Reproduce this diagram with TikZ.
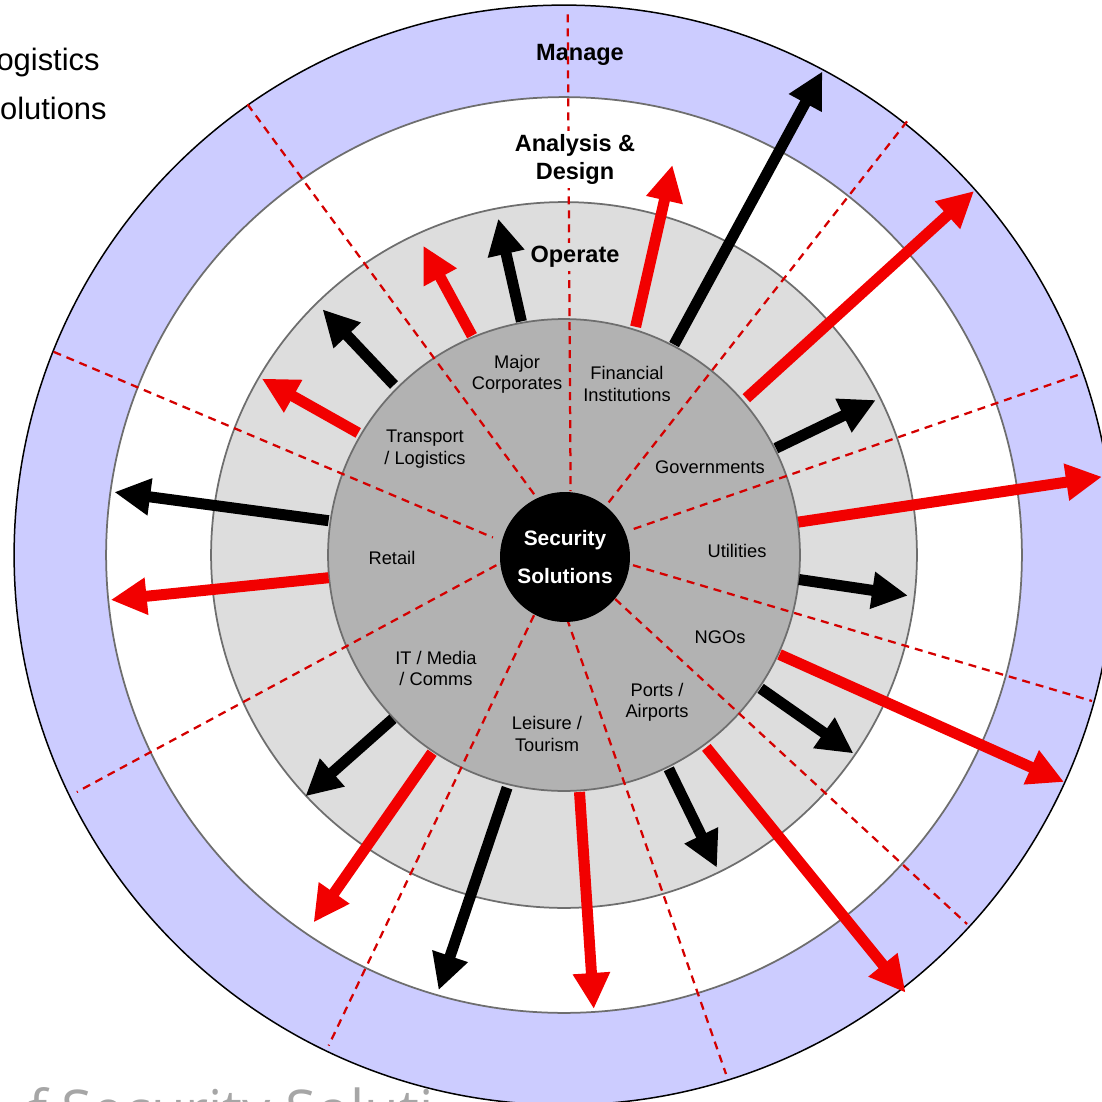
\documentclass[tikz,border=0pt]{standalone}
\usepackage{fontspec}
\setmainfont{Liberation Sans}
\newfontfamily\captionfont{Open Sans}
\usetikzlibrary{arrows.meta}
\definecolor{lav}{HTML}{CCCCFF}
\definecolor{lgray}{HTML}{DDDDDD}
\definecolor{mgray}{HTML}{B2B2B2}
\definecolor{ringline}{HTML}{6E6E6E}
\definecolor{arrred}{HTML}{F20000}
\definecolor{dashred}{HTML}{D40000}
\definecolor{captiongray}{HTML}{A6A6A6}
\begin{document}
\begin{tikzpicture}[x=0.02cm,y=-0.02cm,
  ring/.style={draw=ringline, line width=0.035cm},
  sector/.style={dashred, line width=0.045cm, dash pattern=on 0.16cm off 0.12cm},
  blackarrow/.style={black, line width=0.22cm, -{Triangle[length=0.72cm,width=0.70cm]}},
  redarrow/.style={arrred, line width=0.22cm, -{Triangle[length=0.72cm,width=0.70cm]}},
  seg/.style={align=center, font=\fontsize{10.4}{12.2}\selectfont, inner sep=0pt},
  ringlabel/.style={align=center, font=\bfseries\fontsize{13.4}{15.9}\selectfont, inner sep=2pt},
  sidetext/.style={anchor=base east, font=\fontsize{17.6}{20}\selectfont, inner sep=0pt},
]
\useasboundingbox (0,0) rectangle (1102,1102);
\clip (0,0) rectangle (1102,1102);

% partial texts outside the wheel
\node[sidetext] (tl1) at (100,70.7) {ogistics};
\node[sidetext] (tl2) at (107,119) {olutions};
\node[anchor=base west, inner sep=0pt, text=captiongray, font=\captionfont\fontsize{32}{36}\selectfont] (cap) at (28,1130) {f Security Soluti};

% rings
\coordinate (c) at (564,555);
\fill[lav] (c) circle[radius=11cm];
\draw[black, line width=0.03cm] (c) circle[radius=11cm];
\filldraw[fill=white, ring] (c) circle[radius=9.16cm];
\filldraw[fill=lgray, ring] (c) circle[radius=7.06cm];
\filldraw[fill=mgray, ring] (c) circle[radius=4.72cm];

\node[ringlabel] (manage) at (580,55) {Manage};

% sector dividers
\draw[sector] (567.7,14.3) -- (570.6,491);
\draw[sector] (907,121.4) -- (606.3,505.4);
\draw[sector] (1077.7,375) -- (629.5,530.4);
\draw[sector] (633,565.2) -- (1092,701);
\draw[sector] (615.2,599) -- (967,924);
\draw[sector] (567,618.8) -- (726,1074);
\draw[sector] (496.4,565.2) -- (76.8,792);
\draw[sector] (534,615.2) -- (328.6,1045.6);
\draw[sector] (247.5,104.3) -- (535.7,496.4);
\draw[sector] (53.6,351.8) -- (492.9,537.5);

\node[ringlabel, fill=white] (analysis) at (575,159.5) {Analysis \&\\Design};
\node[ringlabel, fill=lgray] (operate) at (575,257) {Operate};

% arrow end points
\coordinate (a1s) at (521.4,321.4);  \coordinate (a1e) at (498.2,218.6);
\coordinate (a2s) at (472,335.7);    \coordinate (a2e) at (423.2,245.7);
\coordinate (a3s) at (394,385);      \coordinate (a3e) at (322.5,309.3);
\coordinate (a4s) at (358.2,432.9);  \coordinate (a4e) at (261.8,378.6);
\coordinate (a5s) at (328.6,520.7);  \coordinate (a5e) at (114.3,492.1);
\coordinate (a6s) at (328.6,577.7);  \coordinate (a6e) at (110.7,599.9);
\coordinate (a7s) at (392.9,718.8);  \coordinate (a7e) at (305.4,796.3);
\coordinate (a8s) at (432.1,752.7);  \coordinate (a8e) at (313.6,922.4);
\coordinate (a9s) at (507.1,787.7);  \coordinate (a9e) at (438.6,990.2);
\coordinate (a10s) at (579.5,792);   \coordinate (a10e) at (593.8,1009);
\coordinate (a11s) at (668.8,768.8); \coordinate (a11e) at (717,867.7);
\coordinate (a12s) at (706.3,747.4); \coordinate (a12e) at (905.6,992.7);
\coordinate (a13s) at (760.6,688.4); \coordinate (a13e) at (853.4,753.4);
\coordinate (a14s) at (779.5,654.5); \coordinate (a14e) at (1064.1,782);
\coordinate (a15s) at (799,579.5);   \coordinate (a15e) at (908,595.6);
\coordinate (a16s) at (798.4,522.1); \coordinate (a16e) at (1102,476.8);
\coordinate (a17s) at (775.9,448.2); \coordinate (a17e) at (875.9,400);
\coordinate (a18s) at (746.3,398.2); \coordinate (a18e) at (974.1,191);
\coordinate (a19s) at (674.1,344.6); \coordinate (a19e) at (822.4,71.4);
\coordinate (a20s) at (635.6,326.8); \coordinate (a20e) at (672.4,165);

\draw[blackarrow] (a1s) -- (a1e);
\draw[redarrow]   (a2s) -- (a2e);
\draw[blackarrow] (a3s) -- (a3e);
\draw[redarrow]   (a4s) -- (a4e);
\draw[blackarrow] (a5s) -- (a5e);
\draw[redarrow]   (a6s) -- (a6e);
\draw[blackarrow] (a7s) -- (a7e);
\draw[redarrow]   (a8s) -- (a8e);
\draw[blackarrow] (a9s) -- (a9e);
\draw[redarrow]   (a10s) -- (a10e);
\draw[blackarrow] (a11s) -- (a11e);
\draw[redarrow]   (a12s) -- (a12e);
\draw[blackarrow] (a13s) -- (a13e);
\draw[redarrow]   (a14s) -- (a14e);
\draw[blackarrow] (a15s) -- (a15e);
\draw[redarrow]   (a16s) -- (a16e);
\draw[blackarrow] (a17s) -- (a17e);
\draw[redarrow]   (a18s) -- (a18e);
\draw[blackarrow] (a19s) -- (a19e);
\draw[redarrow]   (a20s) -- (a20e);

% centre
\node[circle, fill=black, minimum size=2.6cm, inner sep=0pt, text=white, align=center,
      font=\bfseries\fontsize{11.9}{21.5}\selectfont] (core) at (565,557) {Security\\Solutions};

% sector labels
\node[seg] (major) at (517,374) {Major\\Corporates};
\node[seg] (fin) at (627,384) {Financial\\Institutions};
\node[seg] (gov) at (710,467) {Governments};
\node[seg] (util) at (737,551) {Utilities};
\node[seg] (ngo) at (720,637) {NGOs};
\node[seg] (ports) at (657,702.5) {Ports /\\Airports};
\node[seg] (leisure) at (547,734) {Leisure /\\Tourism};
\node[seg] (it) at (436,668.5) {IT / Media\\/ Comms};
\node[seg] (retail) at (392,558) {Retail};
\node[seg] (transport) at (425,449) {Transport\\/ Logistics};
\end{tikzpicture}
\end{document}
